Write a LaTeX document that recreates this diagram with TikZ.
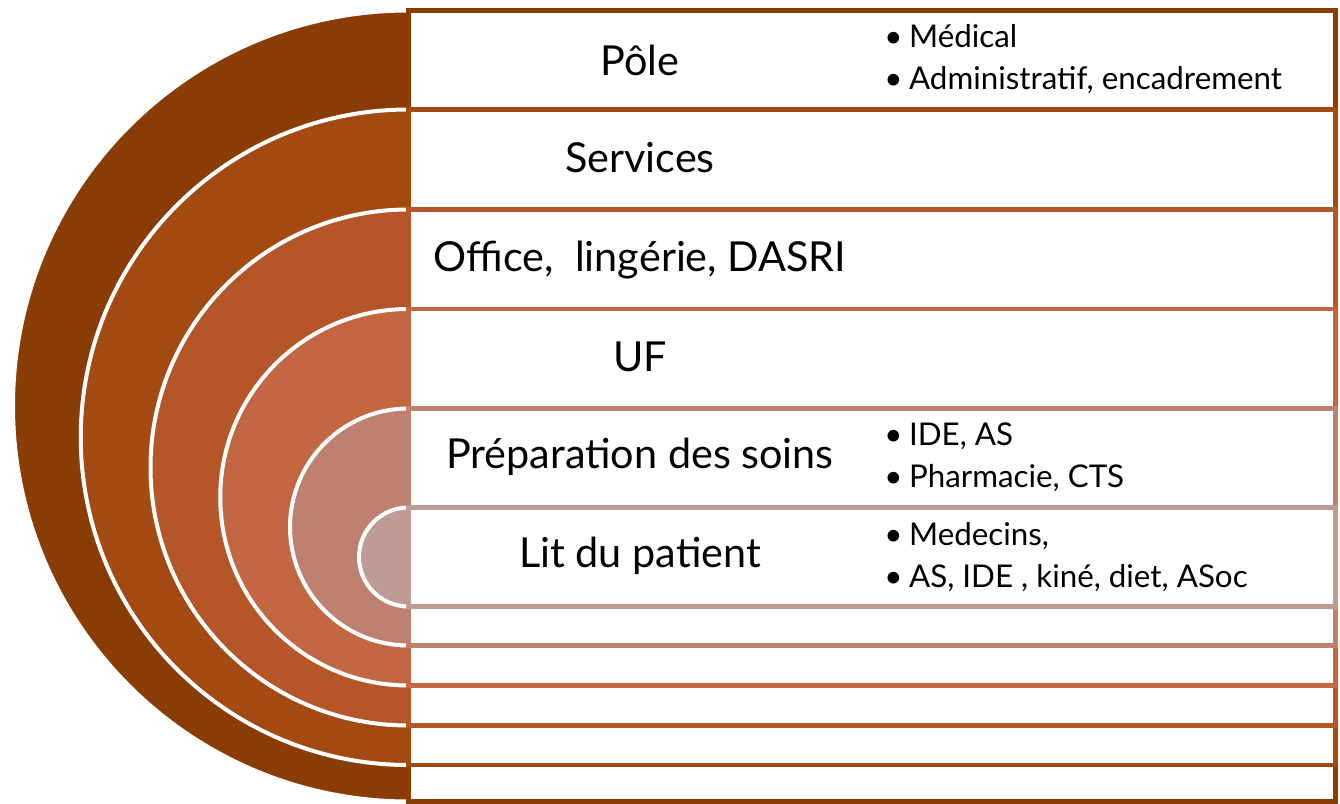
\documentclass[tikz,border=0pt]{standalone}
\usepackage{fontspec}
\setmainfont{Lato}
\definecolor{c1}{HTML}{8A3C05}
\definecolor{c2}{HTML}{A34A13}
\definecolor{c3}{HTML}{B55628}
\definecolor{c4}{HTML}{C36742}
\definecolor{c5}{HTML}{BE8170}
\definecolor{c6}{HTML}{BE9C95}
\begin{document}
\begin{tikzpicture}[x=0.75pt,y=-0.75pt,
  band/.style={line width=3.4pt, fill=white},
  ring/.style={white, line width=3pt},
  bigtext/.style={font=\fontsize{31}{36}\selectfont, inner sep=0pt},
  listtext/.style={font=\fontsize{23.5}{31.5}\selectfont, align=left, anchor=west, inner sep=0pt}]
\useasboundingbox (0,0) rectangle (1340,804);
\foreach \t/\b/\r/\c in {10.5/801.5/296.625/c1, 109.5/765/245.8125/c2, 209.5/725.5/193.5/c3, 309/685.5/141.1875/c4, 408.5/645.5/88.875/c5, 507.5/606.5/37.125/c6}{
  \fill[\c] (408.5,\t) arc[start angle=90, end angle=270, radius=\r pt] -- cycle;
  \draw[ring] (408.5,\t) arc[start angle=90, end angle=270, radius=\r pt];
  \draw[band, draw=\c] (408.5,\t) rectangle (1335.5,\b);
}
\node[bigtext] (pole) at (640,60) {Pôle};
\node[bigtext] (serv) at (640,158) {Services};
\node[bigtext] (office) at (640,260) {Office,\ \ lingérie, DASRI};
\node[bigtext] (uf) at (640,357) {UF};
\node[bigtext] (prep) at (640,457) {Préparation des soins};
\node[bigtext] (lit) at (640,556) {Lit du patient};
\node[listtext] (lpole) at (884,59) {\textbullet\hspace{5pt}Médical\\\textbullet\hspace{5pt}Administratif, encadrement};
\node[listtext] (lprep) at (884,457) {\textbullet\hspace{5pt}IDE, AS\\\textbullet\hspace{5pt}Pharmacie, CTS};
\node[listtext] (llit) at (884,557) {\textbullet\hspace{5pt}Medecins,\\\textbullet\hspace{5pt}AS, IDE , kiné, diet, ASoc};
\end{tikzpicture}
\end{document}
